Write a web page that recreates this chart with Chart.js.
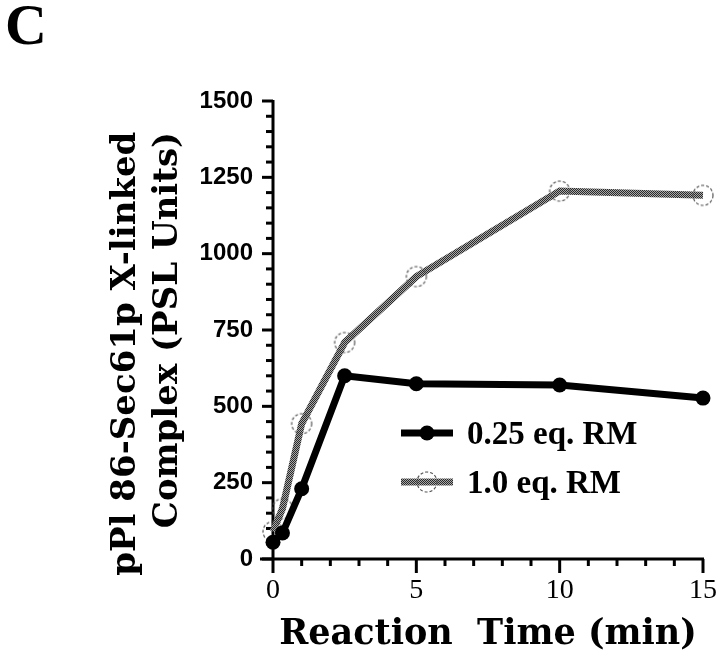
<!DOCTYPE html>
<html>
<head>
<meta charset="utf-8">
<script src="https://cdn.jsdelivr.net/npm/chart.js@4"></script>
<style>
  html, body { margin: 0; padding: 0; background: #fff; }
  #wrap { width: 720px; height: 656px; position: relative; }
</style>
</head>
<body>
<div id="wrap"><canvas id="chart" width="720" height="656"></canvas></div>
<script>
// pPl 86-Sec61p cross-linking time course (panel C)

// reaction time in minutes
const timeMin = [0, 0.33, 1, 2.5, 5, 10, 15];
// PSL units
const rm025 = [55, 85, 230, 600, 574, 570, 527];
const rm10 = [90, 165, 443, 709, 925, 1205, 1191];
const seriesLabels = ['0.25 eq. RM', '1.0 eq. RM'];
const yMajorTicks = [0, 250, 500, 750, 1000, 1250, 1500];
const xMajorTicks = [0, 5, 10, 15];

const serif = '"Liberation Serif", "DejaVu Serif", serif';
const wideSerif = '"DejaVu Serif", "Liberation Serif", serif';
const sans = '"Liberation Sans", Arial, sans-serif';

// stippled grey like the printed line
function makeStipple() {
  const c = document.createElement('canvas');
  c.width = 2; c.height = 2;
  const g = c.getContext('2d');
  g.fillStyle = '#a8a8a8'; g.fillRect(0, 0, 2, 2);
  g.fillStyle = '#2a2a2a'; g.fillRect(0, 0, 1, 1); g.fillRect(1, 1, 1, 1);
  return document.getElementById('chart').getContext('2d').createPattern(c, 'repeat');
}

// dashed open circle marker
function makeDashedCircle() {
  const c = document.createElement('canvas');
  c.width = 24; c.height = 24;
  const g = c.getContext('2d');
  g.strokeStyle = '#555';
  g.lineWidth = 1.2;
  g.setLineDash([3, 2]);
  g.beginPath();
  g.arc(12, 12, 10, 0, Math.PI * 2);
  g.stroke();
  return c;
}

const stipple = makeStipple();
const dashedCircle = makeDashedCircle();

const toPoints = (xs, ys) => xs.map((x, i) => ({ x: x, y: ys[i] }));

// axis lines and long/short ticks like the original
const axesPlugin = {
  id: 'axesPlugin',
  beforeDatasetsDraw(chart) {
    const { ctx, chartArea: a, scales: { x, y } } = chart;
    ctx.save();
    ctx.strokeStyle = '#000';
    ctx.lineWidth = 3;
    ctx.beginPath();
    ctx.moveTo(a.left, a.top - 1);
    ctx.lineTo(a.left, a.bottom);
    ctx.moveTo(a.left - 13, a.bottom);
    ctx.lineTo(a.right + 1, a.bottom);
    ctx.stroke();
    y.ticks.forEach(t => {
      const py = y.getPixelForValue(t.value);
      const len = yMajorTicks.includes(t.value) ? 11 : 7;
      ctx.beginPath();
      ctx.moveTo(a.left - len, py);
      ctx.lineTo(a.left, py);
      ctx.stroke();
    });
    x.ticks.forEach(t => {
      const px = x.getPixelForValue(t.value);
      const len = xMajorTicks.includes(t.value) ? 14 : 7;
      ctx.beginPath();
      ctx.moveTo(px, a.bottom);
      ctx.lineTo(px, a.bottom + len);
      ctx.stroke();
    });
    ctx.restore();
  }
};

// legend drawn inside the plot area
const legendPlugin = {
  id: 'legendPlugin',
  afterDraw(chart) {
    const { ctx, chartArea: a } = chart;
    const x0 = a.left + 128, x1 = a.left + 180, tx = a.left + 194;
    chart.data.datasets.forEach((ds, i) => {
      const yy = a.top + 332 + i * 49;
      ctx.save();
      ctx.strokeStyle = ds.borderColor;
      ctx.lineWidth = ds.borderWidth;
      ctx.beginPath();
      ctx.moveTo(x0, yy);
      ctx.lineTo(x1, yy);
      ctx.stroke();
      const mx = (x0 + x1) / 2;
      if (ds.pointStyle === 'circle') {
        ctx.fillStyle = ds.pointBackgroundColor;
        ctx.beginPath();
        ctx.arc(mx, yy, ds.pointRadius, 0, Math.PI * 2);
        ctx.fill();
      } else {
        ctx.drawImage(ds.pointStyle, mx - 12, yy - 12);
      }
      ctx.fillStyle = '#000';
      ctx.font = 'bold 33px ' + serif;
      ctx.textBaseline = 'middle';
      ctx.fillText(ds.label, tx, yy + 2);
      ctx.restore();
    });
  }
};

new Chart(document.getElementById('chart'), {
  type: 'line',
  data: {
    datasets: [
      {
        label: seriesLabels[0],
        data: toPoints(timeMin, rm025),
        borderColor: '#000',
        borderWidth: 7,
        pointStyle: 'circle',
        pointRadius: 7.5,
        pointBackgroundColor: '#000',
        pointBorderColor: '#000',
        pointBorderWidth: 0,
        tension: 0,
        clip: false
      },
      {
        label: seriesLabels[1],
        data: toPoints(timeMin, rm10),
        borderColor: stipple,
        borderWidth: 7,
        pointStyle: dashedCircle,
        pointRadius: 10,
        tension: 0,
        clip: false
      }
    ]
  },
  plugins: [axesPlugin, legendPlugin],
  options: {
    responsive: false,
    animation: false,
    events: [],
    layout: { padding: { left: 5, right: 0, top: 0, bottom: 0 } },
    plugins: {
      legend: { display: false },
      tooltip: { enabled: false },
      title: {
        display: true,
        text: 'C',
        align: 'start',
        color: '#000',
        font: { family: serif, size: 58, weight: 'bold', lineHeight: 1 },
        padding: { top: 0, bottom: 43 }
      }
    },
    scales: {
      x: {
        type: 'linear',
        min: 0,
        max: 15,
        grid: { display: false },
        border: { display: false },
        afterFit(scale) {
          scale.height = 97;
          scale.paddingRight = 14;
        },
        ticks: {
          stepSize: 1,
          autoSkip: false,
          maxRotation: 0,
          padding: 7,
          color: '#000',
          font: { family: serif, size: 28 },
          callback: v => (xMajorTicks.includes(v) ? String(v) : '')
        },
        title: {
          display: true,
          text: 'Reaction  Time (min)',
          color: '#000',
          font: { family: wideSerif, size: 35, weight: 'bold', lineHeight: 1.2 },
          padding: { top: 0, bottom: 0 }
        }
      },
      y: {
        type: 'linear',
        min: 0,
        max: 1500,
        grid: { display: false },
        border: { display: false },
        afterFit(scale) { scale.width = 268; },
        ticks: {
          stepSize: 50,
          autoSkip: false,
          padding: 12,
          color: '#000',
          font: { family: sans, size: 24, weight: 'bold' },
          callback: v => (yMajorTicks.includes(v) ? String(v) : '')
        },
        title: {
          display: true,
          text: ['pPl 86-Sec61p X-linked    ', 'Complex (PSL Units)'],
          color: '#000',
          font: { family: wideSerif, size: 34, weight: 'bold', lineHeight: 1.24 },
          padding: { top: 100, bottom: 0 }
        }
      }
    }
  }
});
</script>
</body>
</html>
